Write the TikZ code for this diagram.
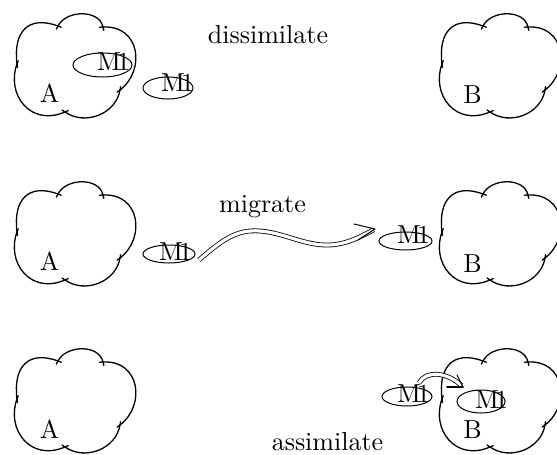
\documentclass[tikz,border=0pt]{standalone}
\usepackage{fontspec}
\setmainfont{lmroman10-regular.otf}
\usetikzlibrary{shapes.geometric}
\begin{document}
\begin{tikzpicture}[x=1pt,y=-1pt,
  cloudline/.style={line width=1.3pt, line join=round, line cap=round},
  oval/.style={draw, ellipse, line width=1pt, inner sep=0pt},
  lbl/.style={inner sep=0pt, anchor=base, font=\fontsize{26}{30}\selectfont},
  mtag/.style={inner sep=0pt, anchor=base west, font=\fontsize{26}{30}\selectfont},
  flow/.style={double, double distance=3.2pt, line width=0.8pt},
  barb/.style={line width=1pt, line cap=round},
  cloudy/.pic={
    % five round lobes meeting at small notches
    \draw[cloudline] (17,52)
      .. controls (13,20) and (28,3) .. (58,14)
      .. controls (66,-2) and (99,-3) .. (103,15)
      .. controls (140,13) and (146,58) .. (120,78)
      .. controls (116,102) and (85,114) .. (65,100)
      .. controls (30,115) and (6,82) .. (17,52) -- cycle;
    % tiny overshoots where the lobes meet
    \draw[cloudline] (58,14) -- +(3.3,1.2)   (58,14) -- +(-1.6,3.1);
    \draw[cloudline] (103,15) -- +(0.8,3.4)  (103,15) -- +(-3.5,0.2);
    \draw[cloudline] (120,78) -- +(-2.8,2.1) (120,78) -- +(0.6,-3.4);
    \draw[cloudline] (65,100) -- +(-2.9,-2)  (65,100) -- +(3.2,-1.4);
    \draw[cloudline] (17,52) -- +(1.2,-3.3)  (17,52) -- +(0.5,3.5);
  }]
\clip (0,0) rectangle (557,455);

% ---- dissimilate ----
\pic at (0,12) {cloudy};
\pic at (425,12) {cloudy};
\node[lbl] (a1) at (49.5,102) {A};
\node[lbl] (b1) at (472.5,103) {B};
\node[oval, minimum width=59pt, minimum height=24pt] (o11) at (102.5,65) {};
\node[mtag] (t11) at (97,70) {M\kern-0.15em1};
\node[oval, minimum width=50pt, minimum height=22pt] (o12) at (168,88) {};
\node[mtag] (t12) at (161,91) {M\kern-0.15em1};
\node[lbl] (d1) at (268,43) {dissimilate};

% ---- migrate ----
\pic at (0,180) {cloudy};
\pic at (425,180) {cloudy};
\node[lbl] (a2) at (49.5,270.5) {A};
\node[lbl] (b2) at (472.5,272) {B};
\node[oval, minimum width=52pt, minimum height=18pt] (o21) at (169,254) {};
\node[mtag] (t21) at (159,260) {M\kern-0.15em1};
\node[oval, minimum width=53pt, minimum height=18pt] (o22) at (405.5,241) {};
\node[mtag] (t22) at (397,243) {M\kern-0.15em1};
\node[lbl] (d2) at (262.5,212) {migrate};
\coordinate (w0) at (199,260);
\coordinate (w1) at (375,229);
\draw[flow, shorten >=1.5pt] (w0) .. controls (220,242) and (235,229) .. (260,231)
  .. controls (285,233) and (305,246) .. (330,245)
  .. controls (348,244) and (362,236) .. (w1);
\draw[barb] (w1) -- +(-21,-5) (w1) -- +(-17,11);

% ---- assimilate ----
\pic at (0,347) {cloudy};
\pic at (425,347) {cloudy};
\node[lbl] (a3) at (49.5,438) {A};
\node[lbl] (b3) at (472.5,438) {B};
\node[oval, minimum width=50pt, minimum height=19pt] (o31) at (407,396.5) {};
\node[mtag] (t31) at (397,402) {M\kern-0.15em1};
\node[oval, minimum width=48pt, minimum height=23pt] (o32) at (481,401.5) {};
\node[mtag] (t32) at (475,408) {M\kern-0.15em1};
\node[lbl] (d3) at (327.5,450) {assimilate};
\coordinate (c0) at (419,383);
\coordinate (c1) at (463,387);
\draw[flow, shorten >=2pt] (c0) .. controls (426,370) and (447,372) .. (c1);
\draw[barb] (c1) -- +(-6,-12);
\draw[barb, line width=1.6pt] (c1) -- +(-16,0);
\end{tikzpicture}
\end{document}
